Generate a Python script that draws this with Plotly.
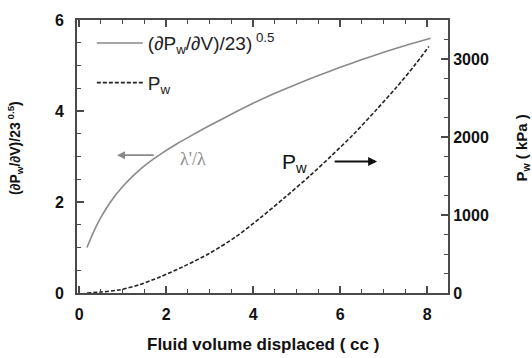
import plotly.graph_objects as go

# Fluid volume displaced (cc) and the normalised stiffness curve
vol_s = [0.18, 0.35, 0.5, 0.72, 1.0, 1.3, 1.6, 1.9, 2.25, 2.6, 3.0, 3.5, 4.0, 4.5, 5.0, 5.5, 6.0, 6.5, 7.0, 7.5, 8.08]
stiff = [1.0, 1.38, 1.66, 2.0, 2.34, 2.63, 2.87, 3.07, 3.28, 3.47, 3.68, 3.93, 4.17, 4.39, 4.59, 4.78, 4.96, 5.13, 5.29, 5.44, 5.6]

# Wellbore pressure P_w (kPa) versus volume
vol_p = [0.18, 0.5, 0.95, 1.4, 1.87, 2.4, 3.0, 3.6, 4.17, 4.75, 5.32, 5.8, 6.3, 6.85, 7.3, 7.7, 8.04]
pw = [0, 12, 42, 110, 208, 340, 510, 720, 965, 1235, 1510, 1760, 2030, 2360, 2640, 2910, 3160]

x_ticks = [0, 2, 4, 6, 8]
y_ticks = [0, 2, 4, 6]
y2_ticks = [0, 1000, 2000, 3000]

FONT = "Liberation Sans"
AX = "#4a4a4a"

fig = go.Figure()
fig.add_trace(go.Scatter(
    x=vol_s, y=stiff, mode="lines",
    line=dict(color="#8a8a8a", width=1.6, shape="spline", smoothing=0.8),
    name="(∂P<sub>w</sub>/∂V)/23)<sup> 0.5</sup>", legendgroup="a"))
fig.add_trace(go.Scatter(
    x=vol_p, y=pw, mode="lines", yaxis="y2",
    line=dict(color="#222222", width=1.6, dash="4px,2px", shape="spline", smoothing=0.8),
    name="P<sub>w</sub>", legendgroup="b"))

tick_font = dict(family=FONT, size=16, color="#111", weight="bold")
minor_common = dict(ticks="inside", ticklen=4, tickcolor=AX, tickwidth=1.2)

fig.update_layout(
    width=532, height=358,
    margin=dict(l=77, r=84, t=13, b=65),
    paper_bgcolor="white", plot_bgcolor="white",
    showlegend=True,
    legend=dict(x=0.04, y=0.985, xanchor="left", yanchor="top", bgcolor="rgba(0,0,0,0)",
                font=dict(family=FONT, size=19, color="#222"),
                traceorder="grouped", tracegroupgap=12, itemwidth=46),
    xaxis=dict(range=[-0.05, 8.48], tickvals=x_ticks, ticks="inside", ticklen=7, tickwidth=1.5,
               tickcolor=AX, showline=True, linecolor=AX, linewidth=2, mirror="ticks",
               showgrid=False, zeroline=False, tickfont=tick_font, ticklabelstandoff=6,
               minor=dict(dtick=0.5, **minor_common)),
    yaxis=dict(range=[0, 6], tickvals=y_ticks, ticks="inside", ticklen=7, tickwidth=1.5,
               tickcolor=AX, showline=True, linecolor=AX, linewidth=2,
               showgrid=False, zeroline=False, tickfont=tick_font, ticklabelstandoff=8,
               minor=dict(dtick=0.5, **minor_common)),
    yaxis2=dict(range=[0, 3500], tickvals=y2_ticks, overlaying="y", side="right",
                ticks="inside", ticklen=7, tickwidth=1.5, tickcolor=AX,
                showline=True, linecolor=AX, linewidth=2,
                showgrid=False, zeroline=False, tickfont=tick_font,
                minor=dict(dtick=250, **minor_common)),
    annotations=[
        # axis titles
        dict(text="Fluid volume displaced ( cc )", xref="paper", yref="paper", x=0.5, y=-0.19,
             xanchor="center", yanchor="middle", showarrow=False,
             font=dict(family=FONT, size=17, color="#111", weight="bold")),
        dict(text="(∂P<sub>w</sub>/∂V)/23<sup> 0.5</sup>)", xref="paper", yref="paper",
             x=-0.165, y=0.53, xanchor="center", yanchor="middle", textangle=-90, showarrow=False,
             font=dict(family=FONT, size=14, color="#111", weight="bold")),
        dict(text="P<sub>w</sub> ( kPa )", xref="paper", yref="paper",
             x=1.2, y=0.53, xanchor="center", yanchor="middle", textangle=-90, showarrow=False,
             font=dict(family=FONT, size=15, color="#111", weight="bold")),
        # left-pointing arrow: stiffness curve belongs to the left axis
        dict(x=0.87, y=3.03, ax=1.75, ay=3.03, xref="x", yref="y", axref="x", ayref="y",
             text="", showarrow=True, arrowhead=2, arrowsize=1, arrowwidth=1.6, arrowcolor="#8a8a8a"),
        dict(x=2.62, y=2.95, xref="x", yref="y", text="λ'/λ", showarrow=False,
             font=dict(family="Liberation Serif", size=18, color="#8a8a8a")),
        # right-pointing arrow: pressure curve belongs to the right axis
        dict(x=6.85, y=2.89, ax=5.84, ay=2.89, xref="x", yref="y", axref="x", ayref="y",
             text="", showarrow=True, arrowhead=2, arrowsize=1, arrowwidth=1.8, arrowcolor="#111"),
        dict(x=4.95, y=2.85, xref="x", yref="y", text="P<sub>w</sub>", showarrow=False,
             font=dict(family=FONT, size=21, color="#111")),
    ],
)

fig.write_html("out.html")
